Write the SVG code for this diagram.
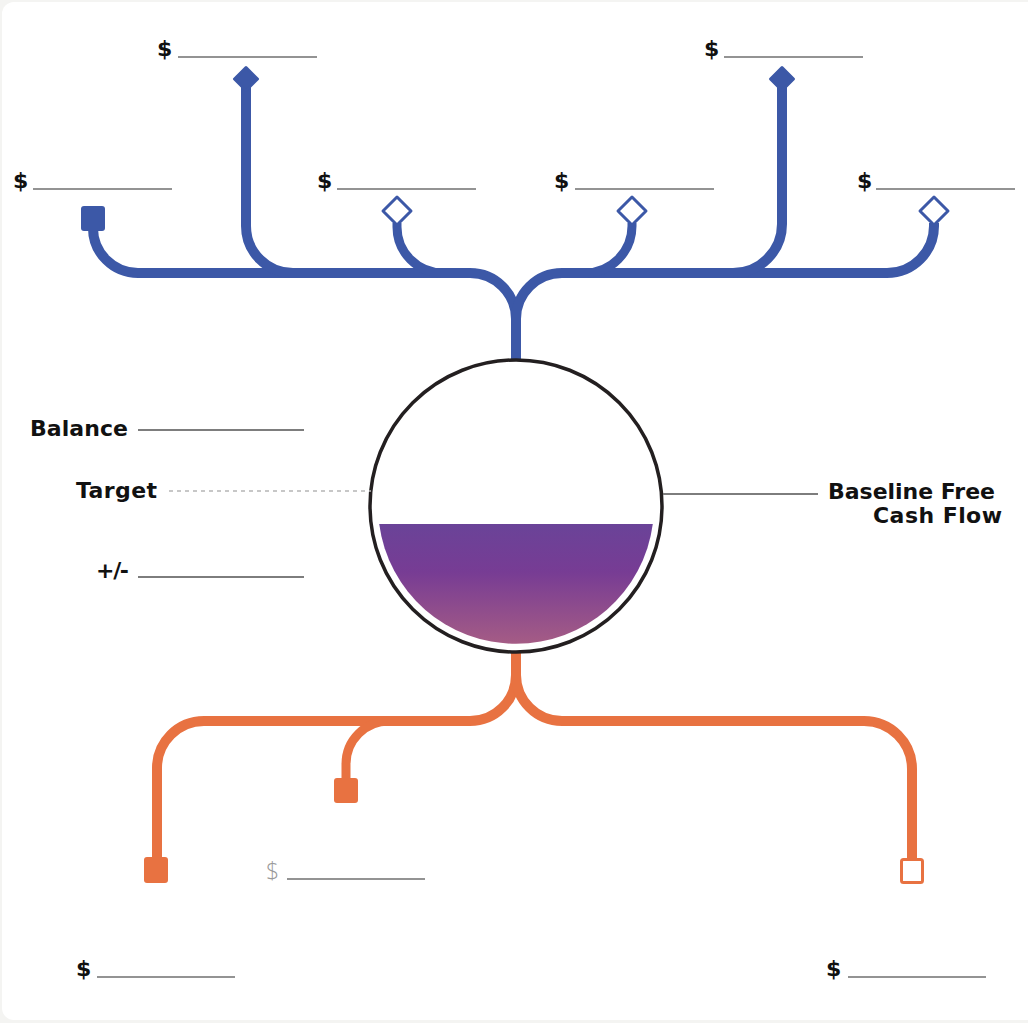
<svg xmlns="http://www.w3.org/2000/svg" width="1028" height="1023" viewBox="0 0 1028 1023">
<defs>
<style>
.lbl{font-family:"DejaVu Sans","Liberation Sans",Arial,sans-serif;font-weight:700;font-size:22px;fill:#111}
.dol{font-family:"DejaVu Sans","Liberation Sans",Arial,sans-serif;font-weight:700;font-size:22px;fill:#111}
.dolg{font-family:"Open Sans","Liberation Sans",Arial,sans-serif;font-weight:300;font-size:23px;fill:#999}
.uline{stroke:#939393;stroke-width:2;fill:none}
.gline{stroke:#7d7d7d;stroke-width:2;fill:none}
.blue{stroke:#3c58a7;stroke-width:10;fill:none}
.blueThin{stroke:#3c58a7;stroke-width:9;fill:none}
.orange{stroke:#e87241;stroke-width:10;fill:none}
.orangeThin{stroke:#e87241;stroke-width:9;fill:none}
</style>
<linearGradient id="liquid" x1="0" y1="524" x2="0" y2="644" gradientUnits="userSpaceOnUse">
<stop offset="0" stop-color="#6a4398"/>
<stop offset="0.4" stop-color="#773c94"/>
<stop offset="1" stop-color="#a55c85"/>
</linearGradient>
</defs>
<rect x="0" y="0" width="1028" height="1023" fill="#f4f4f2"/>
<rect x="2" y="2" width="1040" height="1018" rx="12" fill="#ffffff"/>

<g id="connectors">
<path class="blue" d="M516,360 V319 A46,46 0 0 0 470,273 H138 A45,45 0 0 1 93,228 V220"/>
<path class="blue" d="M516,319 A46,46 0 0 1 562,273 H887 A47,47 0 0 0 934,226 V223"/>
<path class="blue" d="M293,273 A47,47 0 0 1 246,226 V86"/>
<path class="blueThin" d="M443,273 A46,46 0 0 1 397,227 V223"/>
<path class="blueThin" d="M585,273 A47,47 0 0 0 632,226 V223"/>
<path class="blue" d="M733,273 A49,49 0 0 0 782,224 V86"/>
<path class="orange" d="M516,652 V675 A46,46 0 0 1 470,721 H204 A47,47 0 0 0 157,768 V860"/>
<path class="orange" d="M516,675 A46,46 0 0 0 562,721 H864 A48,48 0 0 1 912,769 V860"/>
<path class="orangeThin" d="M389,721 A43,43 0 0 0 346,764 V780"/>
</g>

<g id="node-top-left-square">
<rect x="81" y="206" width="24" height="25" rx="3" fill="#3c58a7"/>
</g>
<g id="node-top-left-diamond">
<polygon points="246,67.5 257.5,79 246,90.5 234.5,79" fill="#3c58a7" stroke="#3c58a7" stroke-width="3" stroke-linejoin="round"/>
</g>
<g id="node-open-diamond-1">
<polygon points="397,197 411,211 397,225 383,211" fill="#ffffff" stroke="#3c58a7" stroke-width="3" stroke-linejoin="round"/>
</g>
<g id="node-open-diamond-2">
<polygon points="632,197 646,211 632,225 618,211" fill="#ffffff" stroke="#3c58a7" stroke-width="3" stroke-linejoin="round"/>
</g>
<g id="node-top-right-diamond">
<polygon points="782,67.5 793.5,79 782,90.5 770.5,79" fill="#3c58a7" stroke="#3c58a7" stroke-width="3" stroke-linejoin="round"/>
</g>
<g id="node-open-diamond-3">
<polygon points="934,197 948,211 934,225 920,211" fill="#ffffff" stroke="#3c58a7" stroke-width="3" stroke-linejoin="round"/>
</g>

<g id="node-tank">
<circle cx="516" cy="506" r="146" fill="#ffffff" stroke="#231f20" stroke-width="3.5"/>
<path d="M379.2,524 H652.8 A138,138 0 0 1 379.2,524 Z" fill="url(#liquid)"/>
</g>

<g id="node-bottom-left-square">
<rect x="144" y="857" width="24" height="26" rx="3" fill="#e87241"/>
</g>
<g id="node-bottom-mid-square">
<rect x="334" y="778" width="24" height="25" rx="3" fill="#e87241"/>
</g>
<g id="node-bottom-right-square">
<rect x="901.5" y="859.5" width="21" height="23" rx="2" fill="#ffffff" stroke="#e87241" stroke-width="3"/>
</g>

<g id="labels">
<text class="dol" x="157" y="56">$</text><line class="uline" x1="178" y1="57" x2="317" y2="57"/>
<text class="dol" x="13" y="188">$</text><line class="uline" x1="33" y1="189" x2="172" y2="189"/>
<text class="dol" x="317" y="188">$</text><line class="uline" x1="337" y1="189" x2="476" y2="189"/>
<text class="dol" x="704" y="56">$</text><line class="uline" x1="724" y1="57" x2="863" y2="57"/>
<text class="dol" x="554" y="188">$</text><line class="uline" x1="575" y1="189" x2="714" y2="189"/>
<text class="dol" x="857" y="188">$</text><line class="uline" x1="876" y1="189" x2="1015" y2="189"/>

<text class="lbl" x="30" y="436" textLength="98">Balance</text>
<line class="gline" x1="138" y1="430" x2="304" y2="430"/>
<text class="lbl" x="76" y="498" textLength="81">Target</text>
<line x1="169" y1="491" x2="371" y2="491" stroke="#b5b5b5" stroke-width="1.5" stroke-dasharray="4,4"/>
<text class="lbl" x="96" y="578" textLength="33">+/-</text>
<line class="gline" x1="138" y1="577" x2="304" y2="577"/>

<line class="gline" x1="663" y1="494" x2="818" y2="494"/>
<text class="lbl"><tspan x="828" y="499" textLength="167">Baseline Free</tspan><tspan x="873" y="523" textLength="129">Cash Flow</tspan></text>

<text class="dolg" x="266" y="879">$</text><line class="uline" x1="287" y1="879" x2="425" y2="879"/>
<text class="dol" x="76" y="976">$</text><line class="uline" x1="97" y1="977" x2="235" y2="977"/>
<text class="dol" x="826" y="976">$</text><line class="uline" x1="848" y1="977" x2="986" y2="977"/>
</g>
</svg>
